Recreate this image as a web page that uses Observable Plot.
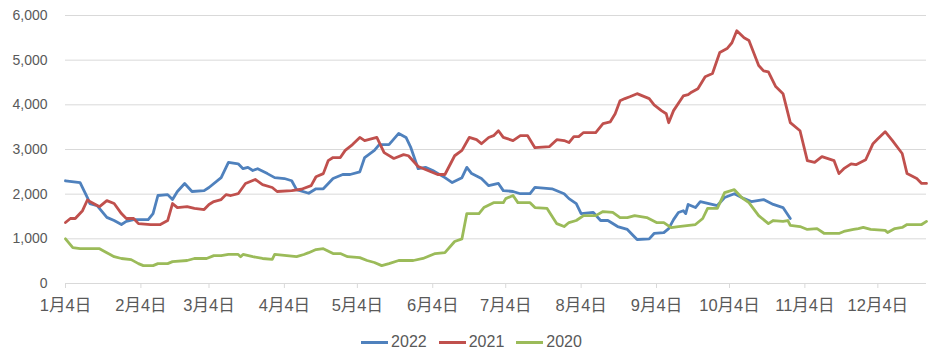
<!DOCTYPE html>
<html>
<head>
<meta charset="utf-8">
<script src="https://cdn.jsdelivr.net/npm/d3@7"></script>
<script src="https://cdn.jsdelivr.net/npm/@observablehq/plot@0.6"></script>
<style>
  body { margin: 0; background: #fff; font-family: "Liberation Sans", "Noto Sans CJK SC", sans-serif; }
  #legend { display: flex; justify-content: center; align-items: center; height: 20px; margin-top: 10px; padding-left: 12px; font-size: 16px; color: #595959; }
  .item { display: flex; align-items: center; margin: 0 6px; }
  .sw { width: 27px; height: 3px; margin-right: 3px; }
</style>
</head>
<body>
<div id="chart"></div>
<script>
// [day of year, value]
const s2022 = [[4,2300],[10,2260],[13,1925],[14,1790],[17,1745],[21,1480],[24,1410],[27,1320],[29,1390],[32,1430],[38,1430],[40,1565],[42,1970],[46,1990],[48,1880],[50,2060],[53,2240],[56,2060],[61,2080],[63,2150],[68,2370],[71,2710],[75,2680],[77,2570],[79,2600],[81,2530],[83,2570],[87,2460],[90,2370],[94,2350],[97,2300],[99,2100],[104,2020],[107,2120],[110,2120],[114,2350],[118,2440],[121,2440],[125,2500],[127,2820],[131,2980],[133,3110],[137,3110],[141,3360],[144,3270],[146,3040],[149,2570],[152,2600],[155,2530],[160,2370],[163,2260],[167,2370],[169,2600],[171,2460],[175,2350],[178,2190],[182,2240],[184,2080],[188,2060],[191,2010],[195,2010],[197,2150],[204,2120],[209,2010],[211,1900],[214,1790],[216,1565],[221,1590],[224,1410],[227,1410],[231,1275],[235,1210],[239,985],[244,1000],[246,1120],[250,1140],[252,1230],[254,1430],[256,1590],[258,1630],[259,1565],[260,1770],[263,1700],[265,1835],[272,1745],[275,1925],[279,2010],[283,1900],[286,1835],[291,1880],[295,1770],[299,1700],[302,1455]];
const s2021 = [[4,1365],[6,1455],[8,1455],[11,1630],[13,1870],[14,1835],[18,1720],[21,1855],[24,1790],[27,1565],[29,1455],[32,1455],[34,1340],[39,1320],[43,1320],[46,1410],[48,1790],[50,1700],[54,1720],[57,1680],[61,1655],[63,1770],[65,1835],[68,1880],[70,1990],[72,1970],[75,2010],[78,2240],[82,2330],[85,2215],[89,2150],[91,2060],[97,2080],[101,2110],[105,2190],[107,2390],[110,2460],[112,2750],[114,2820],[117,2820],[119,2980],[122,3110],[125,3270],[127,3200],[132,3270],[135,2930],[139,2800],[143,2885],[145,2860],[149,2620],[153,2530],[157,2440],[160,2440],[164,2860],[167,2980],[170,3270],[173,3220],[175,3130],[178,3270],[180,3310],[182,3420],[184,3270],[188,3200],[191,3310],[194,3310],[197,3040],[203,3065],[206,3220],[209,3200],[211,3155],[213,3290],[215,3290],[217,3380],[222,3380],[225,3580],[228,3620],[230,3800],[232,4090],[234,4140],[236,4180],[239,4250],[244,4140],[246,4000],[249,3870],[251,3800],[252,3600],[254,3870],[258,4200],[260,4230],[261,4270],[264,4360],[267,4630],[270,4700],[273,5170],[276,5260],[278,5390],[280,5660],[283,5500],[285,5440],[289,4880],[291,4760],[293,4740],[296,4410],[299,4250],[302,3600],[306,3420],[309,2750],[312,2710],[315,2840],[320,2750],[322,2460],[324,2570],[327,2680],[329,2660],[333,2770],[336,3130],[338,3240],[341,3400],[344,3200],[348,2910],[350,2460],[354,2350],[356,2240],[358,2240]];
const s2020 = [[4,1000],[7,805],[10,780],[18,780],[21,690],[24,600],[27,560],[31,535],[34,445],[36,400],[40,400],[42,445],[46,445],[48,490],[54,515],[57,560],[62,560],[65,625],[68,625],[71,650],[75,650],[76,600],[77,650],[81,600],[85,560],[89,540],[90,650],[95,625],[99,600],[102,650],[104,690],[107,760],[110,780],[114,670],[117,670],[120,600],[125,580],[128,515],[131,470],[134,400],[137,445],[141,515],[147,515],[151,560],[156,670],[160,690],[164,940],[167,1000],[169,1565],[174,1565],[176,1700],[180,1810],[184,1810],[185,1900],[188,1970],[190,1810],[195,1810],[197,1700],[202,1680],[206,1340],[209,1275],[211,1365],[214,1410],[217,1520],[222,1520],[225,1610],[229,1590],[232,1475],[235,1475],[238,1520],[243,1475],[247,1365],[250,1365],[253,1250],[256,1275],[263,1320],[266,1455],[268,1680],[272,1680],[275,2035],[279,2100],[282,1925],[285,1810],[289,1520],[293,1340],[295,1410],[299,1390],[301,1410],[302,1300],[306,1275],[309,1210],[313,1230],[316,1120],[322,1120],[324,1165],[328,1210],[330,1230],[332,1255],[335,1210],[341,1190],[342,1140],[345,1230],[348,1255],[350,1320],[353,1320],[356,1320],[358,1390]];

const seriesNames = ["2022", "2021", "2020"];
const seriesColors = ["#4F81BD", "#C0504D", "#9BBB59"];
const seriesData = [s2022, s2021, s2020];
const tickMonths = [1,2,3,4,5,6,7,8,9,10,11,12];
const yTicks = [0,1000,2000,3000,4000,5000,6000];

const toDate = doy => new Date(2021, 0, doy);
const xTicks = tickMonths.map(m => new Date(2021, m - 1, 4));

const lineMarks = seriesData.map((s, i) =>
  Plot.line(s, {x: d => toDate(d[0]), y: d => d[1], stroke: seriesColors[i], strokeWidth: 2.8, strokeLinejoin: "round"})
);

const chart = Plot.plot({
  width: 931,
  height: 322,
  marginLeft: 65,
  marginRight: 5,
  marginTop: 15,
  marginBottom: 39,
  style: {fontFamily: '"Liberation Sans", "Noto Sans CJK SC", sans-serif', background: "#fff"},
  x: {type: "time", domain: [toDate(4), toDate(358)]},
  y: {domain: [0, 6000]},
  marks: [
    Plot.gridY(yTicks, {stroke: "#d9d9d9", strokeOpacity: 1}),
    Plot.ruleY([0], {stroke: "#d9d9d9"}),
    Plot.axisY(yTicks, {tickSize: 0, tickPadding: 18, tickFormat: d3.format(","), fontSize: 14, fill: "#595959", label: null}),
    Plot.axisX(xTicks, {tickSize: 5, tickPadding: 11, tickFormat: d => `${d.getMonth() + 1}月${d.getDate()}日`, fontSize: 16.5, stroke: "#d9d9d9", strokeOpacity: 1, fill: "#595959", label: null}),
    ...lineMarks
  ]
});
document.getElementById("chart").appendChild(chart);

const legend = document.createElement("div");
legend.id = "legend";
seriesNames.forEach((n, i) => {
  const it = document.createElement("div");
  it.className = "item";
  it.innerHTML = `<span class="sw" style="background:${seriesColors[i]}"></span><span>${n}</span>`;
  legend.appendChild(it);
});
document.body.appendChild(legend);
</script>
</body>
</html>
